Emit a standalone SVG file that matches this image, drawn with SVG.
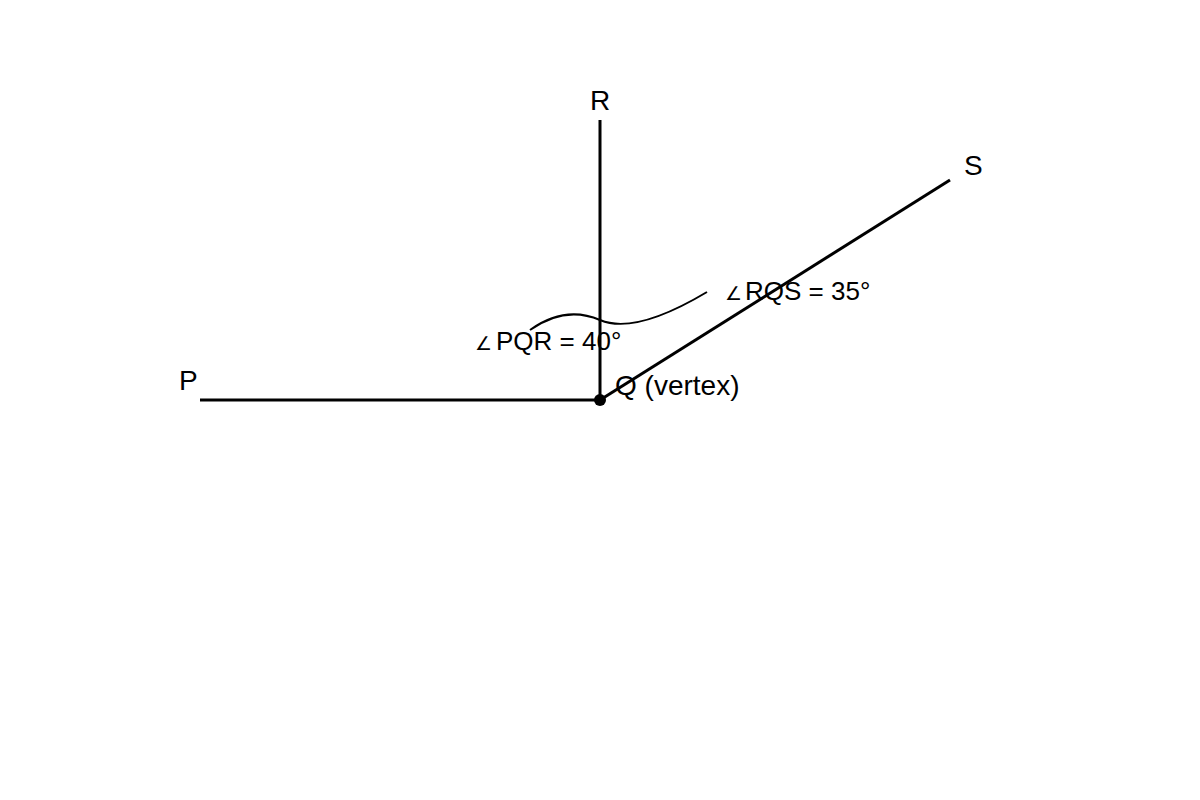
<svg xmlns="http://www.w3.org/2000/svg" width="1200" height="800" viewBox="0 0 1200 800">
<style>
.ray{stroke:#000;stroke-width:3;fill:none;stroke-linecap:butt}
.arc{stroke:#000;stroke-width:2;fill:none}
.lbl{font-family:"Liberation Sans",Arial,sans-serif;font-size:26px;fill:#000}
.vtx{font-size:28px}
.ang{font-size:19px}
</style>
<rect width="1200" height="800" fill="#fff"/>
<g id="connectors">
<line class="ray" x1="200" y1="400" x2="600" y2="400"/>
<line class="ray" x1="600" y1="400" x2="600" y2="120"/>
<line class="ray" x1="600" y1="400" x2="950" y2="180"/>
<path class="arc" d="M 530 330 Q 565 305 600 320 T 707 292"/>
</g>
<g id="node-Q">
<circle cx="600" cy="400" r="6" fill="#000"/>
<text class="lbl vtx" x="615" y="395">Q (vertex)</text>
</g>
<g id="node-P"><text class="lbl vtx" x="179" y="390">P</text></g>
<g id="node-R"><text class="lbl vtx" x="600" y="110" text-anchor="middle">R</text></g>
<g id="node-S"><text class="lbl vtx" x="964" y="175">S</text></g>
<g id="label-PQR"><text class="lbl" x="475" y="350"><tspan class="ang">∠</tspan><tspan x="496">PQR = 40°</tspan></text></g>
<g id="label-RQS"><text class="lbl" x="725" y="300"><tspan class="ang">∠</tspan><tspan x="745">RQS = 35°</tspan></text></g>
</svg>
